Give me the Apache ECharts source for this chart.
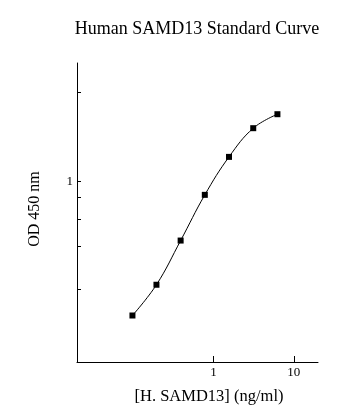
<!DOCTYPE html>
<html>
<head>
<meta charset="utf-8">
<script src="https://cdn.jsdelivr.net/npm/echarts@6/dist/echarts.min.js"></script>
<style>
html,body{margin:0;padding:0;background:#fff;}
#chart{width:360px;height:420px;}
</style>
</head>
<body>
<div id="chart"></div>
<script>
var title = 'Human SAMD13 Standard Curve';
var xName = '[H. SAMD13] (ng/ml)';
var yName = 'OD 450 nm';
var concentrations = [0.098, 0.195, 0.39, 0.78, 1.56, 3.125, 6.25];
var odValues = [0.181, 0.268, 0.471, 0.844, 1.37, 1.976, 2.362];
var xTickValues = [1, 10];
var yTickValues = [0.254, 0.436, 0.619, 0.815, 1, 3.13];
var yLabelValues = [1];

var points = concentrations.map(function (c, i) { return [c, odValues[i]]; });

var chart = echarts.init(document.getElementById('chart'), null, {renderer: 'canvas'});
chart.setOption({
  backgroundColor: '#fff',
  animation: false,
  title: {
    text: title,
    left: 192, top: 15, textAlign: 'center',
    textStyle: {fontFamily: 'Liberation Serif', fontSize: 18, fontWeight: 'normal', color: '#000'}
  },
  grid: {left: 77, right: 42, top: 63, bottom: 58, containLabel: false},
  xAxis: {
    type: 'log', min: 0.02, max: 20,
    name: xName, nameLocation: 'middle', nameGap: 26,
    nameTextStyle: {fontFamily: 'Liberation Serif', fontSize: 16.5, color: '#000', verticalAlign: 'top', padding: [0, 0, 0, 23]},
    axisLine: {show: true, lineStyle: {color: '#000', width: 1}},
    axisTick: {show: true, inside: true, length: 6, customValues: xTickValues, lineStyle: {color: '#000'}},
    axisLabel: {customValues: xTickValues, margin: 4, fontFamily: 'Liberation Serif', fontSize: 13, color: '#000'},
    splitLine: {show: false}
  },
  yAxis: {
    type: 'log', min: 0.1, max: 4.54,
    name: yName, nameLocation: 'middle', nameGap: 34, nameRotate: 90,
    nameTextStyle: {fontFamily: 'Liberation Serif', fontSize: 16, color: '#000', padding: [0, 0, 0, 7]},
    axisLine: {show: true, lineStyle: {color: '#000', width: 1}},
    axisTick: {show: true, inside: true, length: 4, customValues: yTickValues, lineStyle: {color: '#000'}},
    axisLabel: {customValues: yLabelValues, margin: 4, fontFamily: 'Liberation Serif', fontSize: 13, color: '#000'},
    splitLine: {show: false}
  },
  series: [{
    type: 'line',
    data: points,
    smooth: 0.4,
    symbol: 'rect',
    symbolSize: 6,
    itemStyle: {color: '#000'},
    lineStyle: {color: '#000', width: 1}
  }]
});
</script>
</body>
</html>
